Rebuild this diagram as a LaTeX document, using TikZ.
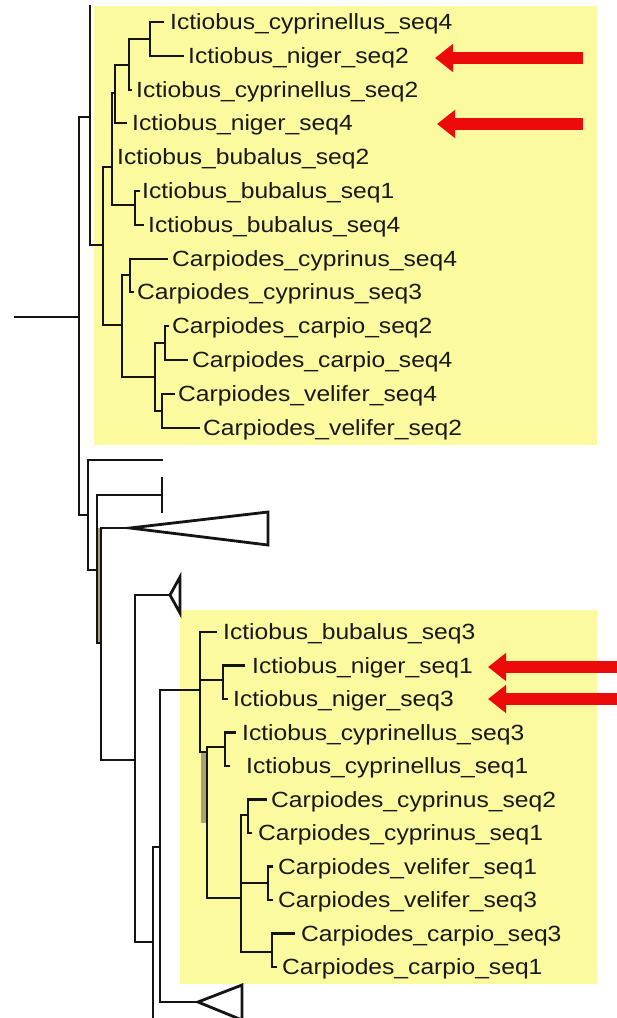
\documentclass[tikz,border=0pt]{standalone}
\usepackage{fontspec}
\newfontfamily\labfont{Liberation Sans}[FakeStretch=1.12]
\usetikzlibrary{arrows.meta}
\definecolor{hilite}{RGB}{252,250,158}
\definecolor{mark}{RGB}{236,10,10}
\definecolor{branch}{RGB}{20,20,20}
\definecolor{overlap}{RGB}{165,163,120}
\definecolor{labtext}{RGB}{25,25,25}

% horizontal branch: from the parent's bar to the child
\newcommand\treebranch[2]{\draw[br] (#1 |- #2) -- (#2);}
% vertical bar of a parent, spanning two children
\newcommand\treebar[3]{\draw[br] (#1 |- #2) -- (#1 |- #3);}

\begin{document}
\begin{tikzpicture}[x=1pt,y=-1pt,
  br/.style={draw=branch,line width=2.8pt,line cap=rect},
  tri/.style={draw=branch,line width=2.8pt,line join=miter},
  lab/.style={anchor=base west,inner sep=0pt,yshift=-7.9pt,
    font=\labfont\fontsize{22}{22}\selectfont,text=labtext},
  pointer/.style={draw=mark,line width=12pt,
    -{Triangle[length=18pt,width=27pt]}},
  box/.style={fill=hilite,draw=none}]

\useasboundingbox (0,0) rectangle (617,1018);
\clip (0,0) rectangle (617,1018);

% highlighted clades
\path[box] (94,6) rectangle (597,445);
\path[box] (180,610) rectangle (597,984);

% ---- internal nodes (bar x, attachment y)
\coordinate (root) at (15,317);
\coordinate (nA) at (79,317);
\coordinate (nB) at (90,117);
\coordinate (topcut) at (90,6);
\coordinate (nC) at (103,245);
\coordinate (nD) at (112,167);
\coordinate (nE) at (115,93);
\coordinate (nF) at (129,65);
\coordinate (nG) at (150,39);
\coordinate (nH) at (135,205);
\coordinate (nI) at (122,325);
\coordinate (nJ) at (130,275);
\coordinate (nK) at (155,377);
\coordinate (nL) at (165,343);
\coordinate (nM) at (162,411);
\coordinate (nN) at (88,515);
\coordinate (nO) at (97,570);
\coordinate (nP) at (101,643);
\coordinate (nQ) at (135,760);
\coordinate (nR) at (153,942);
\coordinate (botcut) at (153,1020);
\coordinate (nS) at (160,847);
\coordinate (nT) at (200,690);
\coordinate (nU) at (223,680);
\coordinate (nV) at (207,752);
\coordinate (nW) at (225,747);
\coordinate (nX) at (241,898);
\coordinate (nY) at (248,815);
\coordinate (nZ) at (268,883);
\coordinate (nAA) at (272,952);

% ---- tip ends
\coordinate (t1) at (163,22);
\coordinate (t2) at (183,56);
\coordinate (t3) at (131,90);
\coordinate (t4) at (126,123);
\coordinate (t5) at (112,157);
\coordinate (t6) at (139,191);
\coordinate (t7) at (143,225);
\coordinate (t8) at (167,259);
\coordinate (t9) at (133,292);
\coordinate (t10) at (168,326);
\coordinate (t11) at (187,360);
\coordinate (t12) at (174,394);
\coordinate (t13) at (199,428);
\coordinate (b1) at (216,632);
\coordinate (b2) at (244,665.5);
\coordinate (b3) at (227,699);
\coordinate (b4) at (235,732.5);
\coordinate (b5) at (229,766);
\coordinate (b6) at (266,799.5);
\coordinate (b7) at (251,833);
\coordinate (b8) at (272,866.5);
\coordinate (b9) at (272,900);
\coordinate (b10) at (294,933.5);
\coordinate (b11) at (276,967);

% collapsed and single-leaf branches
\coordinate (leafA) at (162,460);
\coordinate (tbarA) at (162,495);
\coordinate (triA) at (130,528);
\coordinate (triB) at (170,595);
\coordinate (triC) at (198,1002);

% overlapping bars drawn side by side
\fill[overlap] (97,528) rectangle (101,643);
\fill[overlap] (201,752) rectangle (206,823);

% ---- bars
\draw[br] (root) -- (nA);
\treebar{nA}{nB}{nN}
\treebar{nB}{topcut}{nC}
\treebar{nC}{nD}{nI}
\treebar{nD}{nE}{nH}
\treebar{nE}{nF}{t4}
\treebar{nF}{nG}{t3}
\treebar{nG}{t1}{t2}
\treebar{nH}{t6}{t7}
\treebar{nI}{nJ}{nK}
\treebar{nJ}{t8}{t9}
\treebar{nK}{nL}{nM}
\treebar{nL}{t10}{t11}
\treebar{nM}{t12}{t13}
\treebar{nN}{leafA}{nO}
\treebar{nO}{tbarA}{nP}
\treebar{nP}{triA}{nQ}
\treebar{nQ}{triB}{nR}
\treebar{nR}{nS}{botcut}
\treebar{nS}{nT}{triC}
\treebar{nT}{b1}{nV}
\treebar{nU}{b2}{b3}
\treebar{nV}{nW}{nX}
\treebar{nW}{b4}{b5}
\treebar{nX}{nY}{nAA}
\treebar{nY}{b6}{b7}
\treebar{nZ}{b8}{b9}
\treebar{nAA}{b10}{b11}

% ---- branches
\treebranch{nA}{nB}
\treebranch{nA}{nN}
\treebranch{nB}{nC}
\treebranch{nC}{nD}
\treebranch{nC}{nI}
\treebranch{nD}{nE}
\treebranch{nD}{nH}
\treebranch{nE}{nF}
\treebranch{nE}{t4}
\treebranch{nF}{nG}
\treebranch{nF}{t3}
\treebranch{nG}{t1}
\treebranch{nG}{t2}
\treebranch{nH}{t6}
\treebranch{nH}{t7}
\treebranch{nI}{nJ}
\treebranch{nI}{nK}
\treebranch{nJ}{t8}
\treebranch{nJ}{t9}
\treebranch{nK}{nL}
\treebranch{nK}{nM}
\treebranch{nL}{t10}
\treebranch{nL}{t11}
\treebranch{nM}{t12}
\treebranch{nM}{t13}
\treebranch{nN}{leafA}
\treebranch{nN}{nO}
\treebranch{nO}{tbarA}
\treebranch{nO}{nP}
\treebranch{nP}{triA}
\treebranch{nP}{nQ}
\treebranch{nQ}{triB}
\treebranch{nQ}{nR}
\treebranch{nR}{nS}
\treebranch{nS}{nT}
\treebranch{nS}{triC}
\treebranch{nT}{b1}
\treebranch{nT}{nU}
\treebranch{nT}{nV}
\treebranch{nU}{b2}
\treebranch{nU}{b3}
\treebranch{nV}{nW}
\treebranch{nV}{nX}
\treebranch{nW}{b4}
\treebranch{nW}{b5}
\treebranch{nX}{nY}
\treebranch{nX}{nZ}
\treebranch{nX}{nAA}
\treebranch{nY}{b6}
\treebranch{nY}{b7}
\treebranch{nZ}{b8}
\treebranch{nZ}{b9}
\treebranch{nAA}{b10}
\treebranch{nAA}{b11}

% ---- collapsed clades
\draw[br] ([yshift=17pt]tbarA) -- ([yshift=-17pt]tbarA);
\draw[tri] (triA) -- (268,512) -- (268,545) -- cycle;
\draw[tri] (triB) -- (180,577) -- (180,613) -- cycle;
\draw[tri] (triC) -- (242,985) -- (242,1020) -- cycle;

% ---- tip labels
\node[lab] (L1) at (170,22) {Ictiobus\_cyprinellus\_seq4};
\node[lab] (L2) at (188,56) {Ictiobus\_niger\_seq2};
\node[lab] (L3) at (136,90) {Ictiobus\_cyprinellus\_seq2};
\node[lab] (L4) at (132,123) {Ictiobus\_niger\_seq4};
\node[lab] (L5) at (117,157) {Ictiobus\_bubalus\_seq2};
\node[lab] (L6) at (142,191) {Ictiobus\_bubalus\_seq1};
\node[lab] (L7) at (148,225) {Ictiobus\_bubalus\_seq4};
\node[lab] (L8) at (172,259) {Carpiodes\_cyprinus\_seq4};
\node[lab] (L9) at (137,292) {Carpiodes\_cyprinus\_seq3};
\node[lab] (L10) at (172,326) {Carpiodes\_carpio\_seq2};
\node[lab] (L11) at (192,360) {Carpiodes\_carpio\_seq4};
\node[lab] (L12) at (178,394) {Carpiodes\_velifer\_seq4};
\node[lab] (L13) at (203,428) {Carpiodes\_velifer\_seq2};

\node[lab] (M1) at (223,632) {Ictiobus\_bubalus\_seq3};
\node[lab] (M2) at (252,665.5) {Ictiobus\_niger\_seq1};
\node[lab] (M3) at (233,699) {Ictiobus\_niger\_seq3};
\node[lab] (M4) at (242,732.5) {Ictiobus\_cyprinellus\_seq3};
\node[lab] (M5) at (246,766) {Ictiobus\_cyprinellus\_seq1};
\node[lab] (M6) at (271,799.5) {Carpiodes\_cyprinus\_seq2};
\node[lab] (M7) at (258,833) {Carpiodes\_cyprinus\_seq1};
\node[lab] (M8) at (278,866.5) {Carpiodes\_velifer\_seq1};
\node[lab] (M9) at (278,900) {Carpiodes\_velifer\_seq3};
\node[lab] (M10) at (301,933.5) {Carpiodes\_carpio\_seq3};
\node[lab] (M11) at (282,967) {Carpiodes\_carpio\_seq1};

% ---- red pointers
\coordinate (p1s) at (583,58);  \coordinate (p1e) at (435,58);
\coordinate (p2s) at (583,124); \coordinate (p2e) at (437,124);
\coordinate (p3s) at (630,667); \coordinate (p3e) at (488,667);
\coordinate (p4s) at (630,699); \coordinate (p4e) at (488,699);
\draw[pointer] (p1s) -- (p1e);
\draw[pointer] (p2s) -- (p2e);
\draw[pointer] (p3s) -- (p3e);
\draw[pointer] (p4s) -- (p4e);
\end{tikzpicture}
\end{document}
